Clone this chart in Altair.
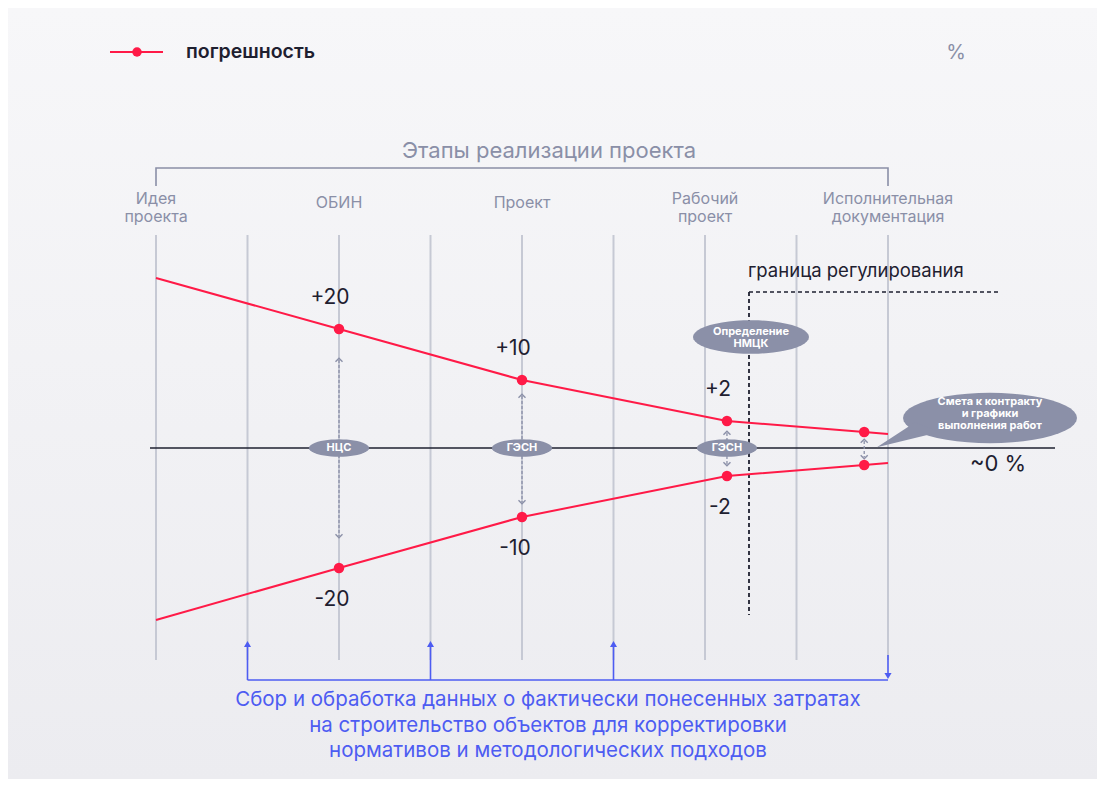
import math
import altair as alt
import pandas as pd

# ---------------- data ----------------
stage_labels = ["Идея\nпроекта", "ОБИН", "Проект", "Рабочий\nпроект", "Исполнительная\nдокументация"]
stage_pos = [0, 2, 4, 6, 8]
grid_pos = [0, 1, 2, 3, 4, 5, 6, 7, 8]
curve_pos = [0, 2, 4, 6.24, 7.74, 8]
upper_level = [170, 119, 68, 27, 16, 14]
lower_level = [-172, -120, -69, -28, -17, -15]
has_marker = [False, True, True, True, True, False]
upper_text = ["+20", "+10", "+2"]
lower_text = ["-20", "-10", "-2"]
badge_text = ["НЦС", "ГЭСН", "ГЭСН"]
badge_pos = [2, 4, 6.24]
collect_pos = [1, 3, 5]
collect_end = 8
footer_lines = [
    "Сбор и обработка данных о фактически понесенных затратах",
    "на строительство объектов для корректировки",
    "нормативов и методологических подходов",
]
title_text = "Этапы реализации проекта"
legend_text = "погрешность"
unit_text = "%"
zero_text = "~0 %"
boundary_text = "граница регулирования"
nmck_text = "Определение\nНМЦК"
contract_text = "Смета к контракту\nи графики\nвыполнения работ"

# ---------------- layout ----------------
W, H = 1089, 771
PX0, STEP, ZERO = 156.0, 91.5, 448.0


def X(px):
    return (px - PX0) / STEP


def Y(py):
    return ZERO - py


XS = alt.Scale(domain=[X(8), X(8 + W)], nice=False, zero=False)
YS = alt.Scale(domain=[Y(8 + H), Y(8)], nice=False, zero=False)

FONT = "Inter"
GREY = "#8a8fa7"
GRID = "#c6c9d4"
DARK = "#1e2030"
RED = "#ff1a47"
BLUE = "#4d5cf2"
BADGE = "#8b90a8"


def enc(**kw):
    out = {}
    for ch, f in kw.items():
        if ch == "x":
            out[ch] = alt.X(f"{f}:Q", scale=XS, axis=None)
        elif ch == "x2":
            out[ch] = alt.X2(f"{f}")
        elif ch == "y":
            out[ch] = alt.Y(f"{f}:Q", scale=YS, axis=None)
        elif ch == "y2":
            out[ch] = alt.Y2(f"{f}")
        else:
            out[ch] = f
    return out


def base(df):
    return alt.Chart(pd.DataFrame(df))


def ellipse_path(ry, n=48):
    pts = []
    for i in range(n):
        a = 2 * math.pi * i / n
        pts.append(f"{math.cos(a):.4f} {ry * math.sin(a):.4f}")
    return "M " + " L ".join(pts) + " Z"


ELL = ellipse_path(0.29)
TAIL = "M -0.86 0.05 L -1.30 0.335 L -0.58 0.16 Z"
CHEV_UP = "M -1 0.5 L 0 -0.5 L 1 0.5"
CHEV_DN = "M -1 -0.5 L 0 0.5 L 1 -0.5"

layers = []

# background gradient
bg = alt.Chart(pd.DataFrame({"a": [0]})).mark_rect(
    color=alt.Gradient(
        gradient="linear", x1=0, x2=0, y1=0, y2=1,
        stops=[alt.GradientStop(color="#f7f7f9", offset=0),
               alt.GradientStop(color="#ececf0", offset=1)],
    )
).encode(x=alt.value(0), x2=alt.value(W), y=alt.value(0), y2=alt.value(H))
layers.append(bg)

# legend
layers.append(base({"x": [X(110)], "x2": [X(163)], "y": [Y(52)]}).mark_rule(
    color=RED, strokeWidth=2).encode(**enc(x="x", x2="x2", y="y")))
layers.append(base({"x": [X(137)], "y": [Y(52)]}).mark_point(
    filled=True, color=RED, size=90, opacity=1, shape="circle").encode(**enc(x="x", y="y")))
layers.append(base({"x": [X(186)], "y": [Y(52)], "t": [legend_text]}).mark_text(
    align="left", baseline="middle", font=FONT, fontSize=19.5, fontWeight=600, color=DARK
).encode(**enc(x="x", y="y"), text="t:N"))
layers.append(base({"x": [X(956)], "y": [Y(53)], "t": [unit_text]}).mark_text(
    align="center", baseline="middle", font=FONT, fontSize=20, color=GREY
).encode(**enc(x="x", y="y"), text="t:N"))

# title + bracket
layers.append(base({"x": [X(549)], "y": [Y(151)], "t": [title_text]}).mark_text(
    align="center", baseline="middle", font=FONT, fontSize=22, color=GREY
).encode(**enc(x="x", y="y"), text="t:N"))
layers.append(base({"x": [0, 0, 8, 8], "y": [Y(186), Y(168), Y(168), Y(186)], "o": [0, 1, 2, 3]}).mark_line(
    color=GREY, strokeWidth=1.6).encode(**enc(x="x", y="y"), order="o:Q"))

# stage labels (y = first line)
stage_df = pd.DataFrame({"x": stage_pos, "t": stage_labels})
stage_df["y"] = [Y(199) if "\n" in s else Y(203) for s in stage_labels]
layers.append(alt.Chart(stage_df).mark_text(
    align="center", baseline="middle", font=FONT, fontSize=16, color=GREY, lineBreak="\n", lineHeight=18
).encode(**enc(x="x", y="y"), text="t:N"))

# grid lines
layers.append(base({"x": grid_pos, "y": [Y(235)] * 9, "y2": [Y(660)] * 9}).mark_rule(
    color=GRID, strokeWidth=2).encode(**enc(x="x", y="y", y2="y2")))

# regulation boundary
layers.append(base({"x": [X(748)], "y": [Y(271)], "t": [boundary_text]}).mark_text(
    align="left", baseline="middle", font=FONT, fontSize=18.5, color=DARK
).encode(**enc(x="x", y="y"), text="t:N"))
layers.append(base({"x": [X(749)], "x2": [X(1000)], "y": [Y(292)]}).mark_rule(
    color=DARK, strokeWidth=1.5, strokeDash=[4, 3]).encode(**enc(x="x", x2="x2", y="y")))
layers.append(base({"x": [X(749)], "y": [Y(292)], "y2": [Y(615)]}).mark_rule(
    color=DARK, strokeWidth=1.8, strokeDash=[4, 3]).encode(**enc(x="x", y="y", y2="y2")))

# zero axis
layers.append(base({"x": [X(150)], "x2": [X(1055)], "y": [0]}).mark_rule(
    color=DARK, strokeWidth=1.5).encode(**enc(x="x", x2="x2", y="y")))
layers.append(base({"x": [X(998)], "y": [Y(464)], "t": [zero_text]}).mark_text(
    align="center", baseline="middle", font=FONT, fontSize=22, color=DARK
).encode(**enc(x="x", y="y"), text="t:N"))

# dashed double arrows between curves
arrow_rules = pd.DataFrame({
    "x": [2, 4, 6.24, 6.24, 7.74],
    "y": [88, 52, 15, -8, 7],
    "y2": [-88, -54, 7, -16, -9],
})
layers.append(alt.Chart(arrow_rules).mark_rule(
    color=BADGE, strokeWidth=1.3, strokeDash=[3, 2]).encode(**enc(x="x", y="y", y2="y2")))
chev_up = pd.DataFrame({"x": [2, 4, 6.24, 7.74], "y": [88, 52, 15, 7]})
chev_dn = pd.DataFrame({"x": [2, 4, 6.24, 7.74], "y": [-88, -54, -16, -9]})
layers.append(alt.Chart(chev_up).mark_point(
    shape=CHEV_UP, filled=False, color=BADGE, size=49, strokeWidth=1.4, opacity=1
).encode(**enc(x="x", y="y")))
layers.append(alt.Chart(chev_dn).mark_point(
    shape=CHEV_DN, filled=False, color=BADGE, size=49, strokeWidth=1.4, opacity=1
).encode(**enc(x="x", y="y")))

# error curves
curve_df = pd.concat([
    pd.DataFrame({"x": curve_pos, "y": upper_level, "s": "up", "m": has_marker}),
    pd.DataFrame({"x": curve_pos, "y": lower_level, "s": "low", "m": has_marker}),
])
layers.append(alt.Chart(curve_df).mark_line(color=RED, strokeWidth=2).encode(
    **enc(x="x", y="y"), detail="s:N", order="x:Q"))
layers.append(alt.Chart(curve_df[curve_df["m"]]).mark_point(
    filled=True, color=RED, size=110, opacity=1, shape="circle").encode(**enc(x="x", y="y")))

# value labels
up_lab = pd.DataFrame({"x": curve_pos[1:4], "y": upper_level[1:4], "t": upper_text})
lo_lab = pd.DataFrame({"x": curve_pos[1:4], "y": lower_level[1:4], "t": lower_text})
layers.append(alt.Chart(up_lab).mark_text(
    align="center", baseline="middle", font=FONT, fontSize=21, color=DARK, dx=-9, dy=-31
).encode(**enc(x="x", y="y"), text="t:N"))
layers.append(alt.Chart(lo_lab).mark_text(
    align="center", baseline="middle", font=FONT, fontSize=21, color=DARK, dx=-7, dy=32
).encode(**enc(x="x", y="y"), text="t:N"))

# badges on zero line
badge_df = pd.DataFrame({"x": badge_pos, "y": [0, 0, 0], "t": badge_text})
layers.append(alt.Chart(badge_df).mark_point(
    shape=ELL, filled=True, color=BADGE, size=60 * 60, opacity=1, strokeWidth=0
).encode(**enc(x="x", y="y")))
layers.append(alt.Chart(badge_df).mark_text(
    align="center", baseline="middle", font=FONT, fontSize=11, fontWeight="bold", color="white"
).encode(**enc(x="x", y="y"), text="t:N"))

# НМЦК badge
nm_df = pd.DataFrame({"x": [X(751)], "y": [Y(337)], "ty": [Y(331.5)], "t": [nmck_text]})
layers.append(alt.Chart(nm_df).mark_point(
    shape=ELL, filled=True, color=BADGE, size=116 * 116, opacity=1, strokeWidth=0
).encode(**enc(x="x", y="y")))
layers.append(alt.Chart(nm_df).mark_text(
    align="center", baseline="middle", font=FONT, fontSize=11, fontWeight="bold", color="white",
    lineBreak="\n", lineHeight=12
).encode(**enc(x="x", y="ty"), text="t:N"))

# contract callout
ct_df = pd.DataFrame({"x": [X(990)], "y": [Y(418)], "ty": [Y(402)], "t": [contract_text]})
layers.append(alt.Chart(ct_df).mark_point(
    shape=ELL, filled=True, color=BADGE, size=174 * 174, opacity=1, strokeWidth=0
).encode(**enc(x="x", y="y")))
layers.append(alt.Chart(ct_df).mark_point(
    shape=TAIL, filled=True, color=BADGE, size=174 * 174, opacity=1, strokeWidth=0
).encode(**enc(x="x", y="y")))
layers.append(alt.Chart(ct_df).mark_text(
    align="center", baseline="middle", font=FONT, fontSize=11, fontWeight="bold", color="white",
    lineBreak="\n", lineHeight=12
).encode(**enc(x="x", y="ty"), text="t:N"))

# data-collection feedback arrows
layers.append(base({"x": [collect_pos[0]], "x2": [collect_end], "y": [Y(680)]}).mark_rule(
    color=BLUE, strokeWidth=1.6).encode(**enc(x="x", x2="x2", y="y")))
up_df = pd.DataFrame({"x": collect_pos, "y": [Y(680)] * 3, "y2": [Y(646)] * 3, "tip": [Y(644)] * 3})
layers.append(alt.Chart(up_df).mark_rule(color=BLUE, strokeWidth=1.6).encode(**enc(x="x", y="y", y2="y2")))
layers.append(alt.Chart(up_df).mark_point(
    shape="triangle-up", filled=True, color=BLUE, size=50, opacity=1).encode(**enc(x="x", y="tip")))
dn_df = pd.DataFrame({"x": [collect_end], "y": [Y(655)], "y2": [Y(674)], "tip": [Y(676)]})
layers.append(alt.Chart(dn_df).mark_rule(color=BLUE, strokeWidth=1.6).encode(**enc(x="x", y="y", y2="y2")))
layers.append(alt.Chart(dn_df).mark_point(
    shape="triangle-down", filled=True, color=BLUE, size=50, opacity=1).encode(**enc(x="x", y="tip")))

foot_df = pd.DataFrame({"x": [X(548)] * 3, "y": [Y(700), Y(726), Y(751)], "t": footer_lines})
layers.append(alt.Chart(foot_df).mark_text(
    align="center", baseline="middle", font=FONT, fontSize=20.5, color=BLUE
).encode(**enc(x="x", y="y"), text="t:N"))

chart = alt.layer(*layers).properties(
    width=W, height=H,
    autosize=alt.AutoSizeParams(type="fit", contains="padding"),
    padding=0,
    background="#f3f3f6",
).configure_view(stroke=None)

chart.save("out.html", embed_options={"renderer": "svg", "actions": False})
